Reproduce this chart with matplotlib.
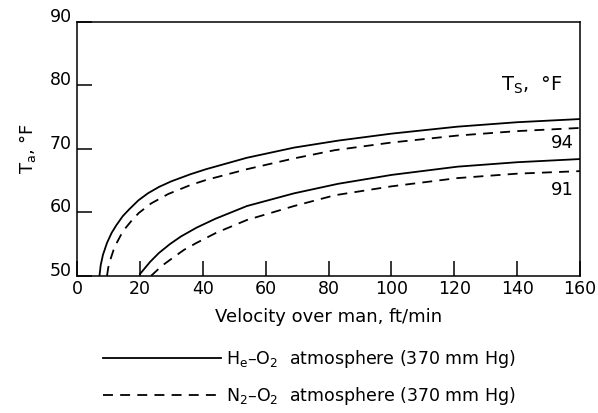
#!/usr/bin/env python
# -*- coding: utf-8 -*-

import matplotlib
matplotlib.use('Agg')
import matplotlib.pyplot as plt
import matplotlib.transforms as mtransforms

# curves: velocity (ft/min) vs T_a (deg F)
vel_he_94 = [7.1, 7.5, 8.2, 9.5, 11, 12.5, 14.5, 16.6, 19.5, 22.5, 26, 30, 36, 41,
             54, 69, 83, 100, 121, 140, 160]
temp_he_94 = [50.0, 51.7, 53.3, 55.2, 56.8, 58.0, 59.4, 60.5, 61.9, 63.0, 64.0, 64.9, 66.0, 66.8,
              68.6, 70.2, 71.3, 72.4, 73.5, 74.2, 74.7]

vel_n2_94 = [9.5, 9.9, 10.6, 11.6, 12.7, 14, 15.5, 17.5, 19.6, 23.5, 29, 36, 41,
             54, 69, 82, 100, 121, 140, 160]
temp_n2_94 = [50.0, 51.3, 52.6, 54.1, 55.3, 56.5, 57.6, 58.8, 59.9, 61.4, 62.9, 64.3, 65.1,
              66.8, 68.5, 69.8, 71.0, 72.1, 72.8, 73.3]

vel_he_91 = [20, 23.2, 26, 29.5, 33, 38, 44, 54, 69, 83, 100, 121, 140, 160]
temp_he_91 = [50.3, 52.2, 53.6, 55.0, 56.2, 57.6, 59.0, 61.0, 63.0, 64.5, 65.9, 67.2, 67.9, 68.4]

vel_n2_91 = [23.5, 27, 30.6, 34, 38, 44.3, 54, 69, 82, 100, 121, 140, 160]
temp_n2_91 = [50.0, 51.6, 52.9, 54.1, 55.2, 56.8, 58.8, 61.0, 62.7, 64.1, 65.4, 66.1, 66.5]

x_ticks = [0, 20, 40, 60, 80, 100, 120, 140, 160]
y_ticks = [50, 60, 70, 80, 90]
ts_labels = ['94', '91']
ts_label_pos = [(154.5, 71.0), (154.5, 63.6)]

plt.rcParams['font.family'] = ['DejaVu Sans']
plt.rcParams['mathtext.fontset'] = 'dejavusans'

fig = plt.figure(figsize=(5.98, 4.13), dpi=100)
ax = fig.add_axes([0.129, 0.332, 0.841, 0.615])

lw = 1.3
dash = (5.5, 4)
ax.plot(vel_he_94, temp_he_94, color='black', lw=lw,
        label=r'H$_\mathregular{e}$–O$_\mathregular{2}$  atmosphere (370 mm Hg)')
ax.plot(vel_n2_94, temp_n2_94, color='black', lw=lw, dashes=dash,
        label=r'N$_\mathregular{2}$–O$_\mathregular{2}$  atmosphere (370 mm Hg)')
ax.plot(vel_he_91, temp_he_91, color='black', lw=lw)
ax.plot(vel_n2_91, temp_n2_91, color='black', lw=lw, dashes=dash)

ax.set_xlim(0, 160)
ax.set_ylim(50, 90)
ax.set_xticks(x_ticks)
ax.set_yticks(y_ticks)
ax.tick_params(direction='in', length=11, width=1.1, labelsize=12.5, pad=4,
               top=False, right=False)
ax.tick_params(axis='x', pad=3)
for s in ax.spines.values():
    s.set_linewidth(1.1)

# y tick labels sit a little above their ticks in the original
shift = mtransforms.ScaledTranslation(0, 5 / 72, fig.dpi_scale_trans)
for lab in ax.get_yticklabels():
    lab.set_transform(lab.get_transform() + shift)

ax.set_xlabel('Velocity over man, ft/min', fontsize=13, labelpad=7)
ax.set_ylabel(r'T$_\mathregular{a}$, °F', fontsize=13, labelpad=8)

ax.text(135, 80.0, r'T$_\mathregular{S}$,  °F', fontsize=14, va='center', ha='left')
for lab, (xx, yy) in zip(ts_labels, ts_label_pos):
    ax.text(xx, yy, lab, fontsize=13, va='center', ha='center')

fig.legend(loc='upper left', bbox_to_anchor=(0.172, 0.158), frameon=False,
           handlelength=6.8, handletextpad=0.3, labelspacing=0.9,
           borderpad=0, borderaxespad=0, fontsize=12.5)

fig.savefig('out.png', dpi=100)
